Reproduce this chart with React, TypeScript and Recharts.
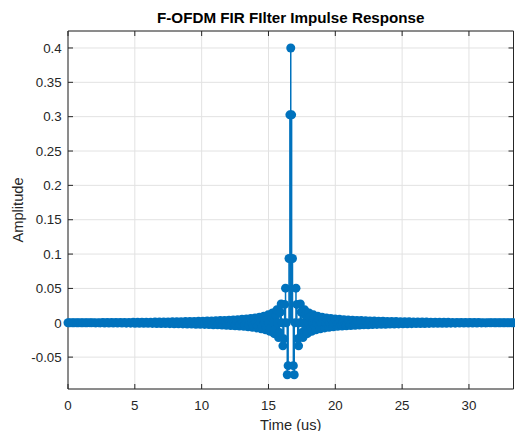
import React from 'react';
import { ComposedChart, Scatter, XAxis, YAxis, CartesianGrid, ErrorBar } from 'recharts';

const SAMPLE_RATE_MHZ = 15.36;
const LAST_SAMPLE = 512;

// filter tap index (0..512)
const sampleIndex = [
  0, 2, 5, 7, 10, 12, 15, 17, 20, 22,
  25, 27, 30, 32, 35, 37, 40, 42, 45, 47,
  50, 52, 55, 57, 60, 62, 65, 67, 70, 72,
  75, 77, 80, 82, 85, 87, 90, 92, 95, 97,
  100, 102, 105, 107, 110, 112, 115, 117, 120, 122,
  125, 127, 130, 132, 135, 137, 140, 142, 145, 147,
  150, 152, 155, 157, 160, 162, 165, 167, 170, 172,
  175,
  176, 177, 178, 179, 180, 181, 182, 183, 184, 185,
  186, 187, 188, 189, 190, 191, 192, 193, 194, 195,
  196, 197, 198, 199, 200, 201, 202, 203, 204, 205,
  206, 207, 208, 209, 210, 211, 212, 213, 214, 215,
  216, 217, 218, 219, 220, 221, 222, 223, 224, 225,
  226, 227, 228, 229, 230, 231, 232, 233, 234, 235, 236, 237, 238, 239, 240,
  241, 242, 243, 244, 245, 246, 247, 248, 249, 250, 251, 252, 253, 254, 255,
  256,
  257, 258, 259, 260, 261, 262, 263, 264, 265, 266, 267, 268, 269, 270, 271,
  272, 273, 274, 275, 276, 277, 278, 279, 280, 281, 282, 283, 284, 285, 286,
  287, 288, 289, 290, 291, 292, 293, 294, 295, 296,
  297, 298, 299, 300, 301, 302, 303, 304, 305, 306,
  307, 308, 309, 310, 311, 312, 313, 314, 315, 316,
  317, 318, 319, 320, 321, 322, 323, 324, 325, 326,
  327, 328, 329, 330, 331, 332, 333, 334, 335, 336,
  337, 340, 342, 345, 347, 350, 352, 355, 357, 360,
  362, 365, 367, 370, 372, 375, 377, 380, 382, 385,
  387, 390, 392, 395, 397, 400, 402, 405, 407, 410,
  412, 415, 417, 420, 422, 425, 427, 430, 432, 435,
  437, 440, 442, 445, 447, 450, 452, 455, 457, 460,
  462, 465, 467, 470, 472, 475, 477, 480, 482, 485,
  487, 490, 492, 495, 497, 500, 502, 505, 507, 510,
  512,
];

// impulse response amplitude at each tap
const amplitude = [
  0, -0.00001, 0.00001, -0.00002, 0.00003, -0.00004, 0.00005, -0.00007, 0.00009, -0.0001,
  0.00012, -0.00014, 0.00016, -0.00018, 0.0002, -0.00022, 0.00025, -0.00027, 0.00029, -0.00031,
  0.00034, -0.00036, 0.0004, -0.00042, 0.00045, -0.00047, 0.00051, -0.00053, 0.00057, -0.00059,
  0.00063, -0.00066, 0.0007, -0.00073, 0.00077, -0.0008, 0.00084, -0.00087, 0.00092, -0.00095,
  0.001, -0.00104, 0.00109, -0.00112, 0.00118, -0.00122, 0.00128, -0.00132, 0.00138, -0.00142,
  0.00149, -0.00154, 0.00161, -0.00166, 0.00173, -0.00179, 0.00187, -0.00193, 0.00201, -0.00208,
  0.00217, -0.00224, 0.00234, -0.00241, 0.00253, -0.00261, 0.00273, -0.00282, 0.00295, -0.00305,
  0.0032,
  0, -0.00331, -0.00208, 0.00211, 0.00348, 0, -0.0036, -0.00226, 0.0023, 0.00379,
  0, -0.00393, -0.00247, 0.00252, 0.00415, 0, -0.0043, -0.00271, 0.00276, 0.00455,
  0, -0.00474, -0.00298, 0.00305, 0.00503, 0, -0.00524, -0.00331, 0.00338, 0.00559,
  0, -0.00585, -0.0037, 0.00378, 0.00627, 0, -0.00658, -0.00417, 0.00428, 0.00711,
  0, -0.0075, -0.00476, 0.0049, 0.00817, 0, -0.00867, -0.00553, 0.00571, 0.00956,
  0, -0.0102, -0.0066, 0.0068, 0.0115, 0, -0.0124, -0.008, 0.0084, 0.0143, 0, -0.0158, -0.0103, 0.0109, 0.0188,
  0, -0.0215, -0.0143, 0.0155, 0.0274, 0, -0.0336, -0.0234, 0.0267, 0.0504, 0, -0.0757, -0.0624, 0.0935, 0.3027,
  0.4,
  0.3027, 0.0935, -0.0624, -0.0757, 0, 0.0504, 0.0267, -0.0234, -0.0336, 0, 0.0274, 0.0155, -0.0143, -0.0215, 0,
  0.0188, 0.0109, -0.0103, -0.0158, 0, 0.0143, 0.0084, -0.008, -0.0124, 0, 0.0115, 0.0068, -0.0066, -0.0102, 0,
  0.00956, 0.00571, -0.00553, -0.00867, 0, 0.00817, 0.0049, -0.00476, -0.0075, 0,
  0.00711, 0.00428, -0.00417, -0.00658, 0, 0.00627, 0.00378, -0.0037, -0.00585, 0,
  0.00559, 0.00338, -0.00331, -0.00524, 0, 0.00503, 0.00305, -0.00298, -0.00474, 0,
  0.00455, 0.00276, -0.00271, -0.0043, 0, 0.00415, 0.00252, -0.00247, -0.00393, 0,
  0.00379, 0.0023, -0.00226, -0.0036, 0, 0.00348, 0.00211, -0.00208, -0.00331, 0,
  0.0032, -0.00305, 0.00295, -0.00282, 0.00273, -0.00261, 0.00253, -0.00241, 0.00234, -0.00224,
  0.00217, -0.00208, 0.00201, -0.00193, 0.00187, -0.00179, 0.00173, -0.00166, 0.00161, -0.00154,
  0.00149, -0.00142, 0.00138, -0.00132, 0.00128, -0.00122, 0.00118, -0.00112, 0.00109, -0.00104,
  0.001, -0.00095, 0.00092, -0.00087, 0.00084, -0.0008, 0.00077, -0.00073, 0.0007, -0.00066,
  0.00063, -0.00059, 0.00057, -0.00053, 0.00051, -0.00047, 0.00045, -0.00042, 0.0004, -0.00036,
  0.00034, -0.00031, 0.00029, -0.00027, 0.00025, -0.00022, 0.0002, -0.00018, 0.00016, -0.00014,
  0.00012, -0.0001, 0.00009, -0.00007, 0.00005, -0.00004, 0.00003, -0.00002, 0.00001, -0.00001,
  0,
];

const xTicks = [0, 5, 10, 15, 20, 25, 30];
const yTicks = [-0.05, 0, 0.05, 0.1, 0.15, 0.2, 0.25, 0.3, 0.35, 0.4];
const yDomain = [-0.0964, 0.4247];

const TITLE = 'F-OFDM FIR FIlter Impulse Response';
const X_LABEL = 'Time (us)';
const Y_LABEL = 'Amplitude';

const chartData = sampleIndex.map((k, i) => {
  const a = amplitude[i];
  return { t: k / SAMPLE_RATE_MHZ, a, stem: a >= 0 ? [a, 0] : [0, -a] };
});

const FONT = '"Liberation Sans", Arial, Helvetica, sans-serif';
const AXIS_COLOR = '#262626';
const BLUE = '#0072BD';

const EmptyTick = () => <g />;
const Nothing = () => <g />;

const Marker = (p: any) => <circle cx={p.cx} cy={p.cy} r={4.5} fill={BLUE} />;

export default function App() {
  const xMax = LAST_SAMPLE / SAMPLE_RATE_MHZ;
  return (
    <div style={{ position: 'absolute', left: 0, top: 0, width: 515, height: 431, background: '#fff' }}>
      <ComposedChart
        width={515}
        height={431}
        data={chartData}
        margin={{ top: 30, right: 0.5, bottom: 0, left: 8 }}
        style={{ fontFamily: FONT }}
      >
        <CartesianGrid stroke="#e2e2e2" strokeWidth={1} />
        <XAxis
          dataKey="t"
          type="number"
          domain={[0, xMax]}
          ticks={xTicks}
          height={42}
          tickSize={-5}
          tickMargin={16.5}
          axisLine={{ stroke: AXIS_COLOR }}
          tickLine={{ stroke: AXIS_COLOR }}
          tick={{ fill: AXIS_COLOR, fontSize: 13.33, fontFamily: FONT }}
          interval={0}
          label={{
            content: (props: any) => {
              const vb = props.viewBox || {};
              return (
                <text
                  x={vb.x + vb.width / 2}
                  y={vb.y + vb.height - 1.5}
                  textAnchor="middle"
                  fontSize={14.67}
                  fontFamily={FONT}
                  fill={AXIS_COLOR}
                >
                  {X_LABEL}
                </text>
              );
            },
          }}
        />
        <XAxis
          xAxisId="top"
          dataKey="t"
          orientation="top"
          type="number"
          domain={[0, xMax]}
          ticks={xTicks}
          height={1}
          tickSize={-5}
          axisLine={{ stroke: AXIS_COLOR }}
          tickLine={{ stroke: AXIS_COLOR }}
          tick={EmptyTick}
          interval={0}
          label={{
            content: (props: any) => {
              const vb = props.viewBox || {};
              return (
                <text
                  x={vb.x + vb.width / 2}
                  y={vb.y - 6.8}
                  textAnchor="middle"
                  fontSize={15.2}
                  fontWeight="bold"
                  fontFamily={FONT}
                  fill="#000"
                >
                  {TITLE}
                </text>
              );
            },
          }}
        />
        <YAxis
          dataKey="a"
          type="number"
          domain={yDomain}
          ticks={yTicks}
          width={60}
          tickSize={-5}
          tickMargin={11.3}
          axisLine={{ stroke: AXIS_COLOR }}
          tickLine={{ stroke: AXIS_COLOR }}
          tick={{ fill: AXIS_COLOR, fontSize: 13.33, fontFamily: FONT }}
          interval={0}
          label={{
            content: (props: any) => {
              const vb = props.viewBox || {};
              const cx = 23;
              const cy = vb.y + vb.height / 2;
              return (
                <text
                  x={cx}
                  y={cy}
                  transform={`rotate(-90 ${cx} ${cy})`}
                  textAnchor="middle"
                  fontSize={14.67}
                  fontFamily={FONT}
                  fill={AXIS_COLOR}
                >
                  {Y_LABEL}
                </text>
              );
            },
          }}
        />
        <YAxis
          yAxisId="right"
          dataKey="a"
          orientation="right"
          type="number"
          domain={yDomain}
          ticks={yTicks}
          width={1}
          tickSize={-5}
          axisLine={{ stroke: AXIS_COLOR }}
          tickLine={{ stroke: AXIS_COLOR }}
          tick={EmptyTick}
          interval={0}
        />
        <Scatter
          xAxisId="top"
          yAxisId="right"
          dataKey="a"
          shape={Nothing}
          legendType="none"
          isAnimationActive={false}
        />
        <Scatter dataKey="a" fill={BLUE} shape={Marker} isAnimationActive={false}>
          <ErrorBar dataKey="stem" direction="y" width={0} stroke={BLUE} strokeWidth={1.5} isAnimationActive={false} />
        </Scatter>
      </ComposedChart>
    </div>
  );
}
